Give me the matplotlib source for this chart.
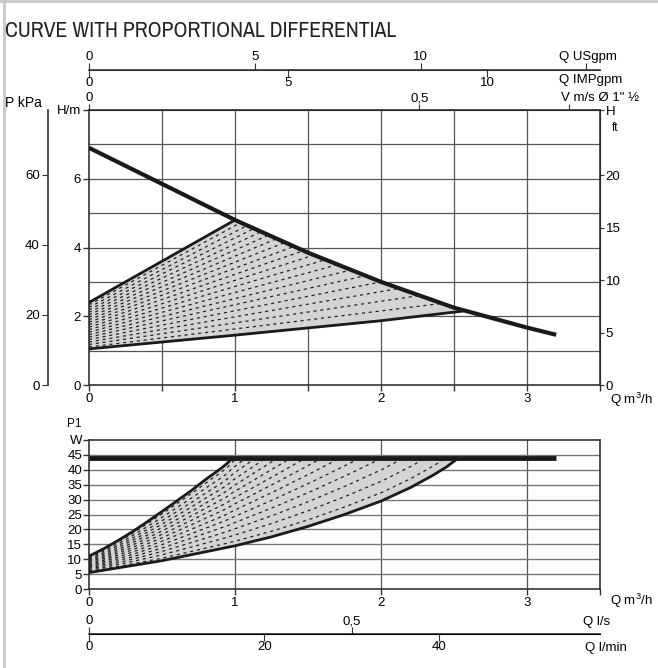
import numpy as np
import matplotlib
matplotlib.use('Agg')
import matplotlib.pyplot as plt
from matplotlib.patches import Polygon
from matplotlib import font_manager

plt.rcParams['font.family'] = ['Liberation Sans', 'DejaVu Sans']
plt.rcParams['mathtext.default'] = 'regular'

# ---- data ----
# head curves (Q m3/h, H m)
q_max = [0.0, 0.5, 1.0, 1.5, 2.0, 2.5, 3.0, 3.2]
h_max = [6.9, 5.85, 4.8, 3.85, 3.0, 2.25, 1.67, 1.46]
q_prop_hi = [0.0, 1.0]
h_prop_hi = [2.4, 4.8]
q_prop_lo = [0.0, 1.0, 2.0, 2.56]
h_prop_lo = [1.05, 1.45, 1.87, 2.15]

# power curves (Q m3/h, P1 W)
q_pmax = [0.0, 3.2]
p_pmax = [44.0, 44.0]
q_p_hi = [0.0, 0.1, 0.2, 0.3, 0.4, 0.5, 0.6, 0.7, 0.8, 0.9, 0.95, 0.98]
p_p_hi = [11.0, 13.5, 16.3, 19.3, 22.6, 26.0, 29.5, 33.0, 36.8, 40.3, 42.3, 44.0]
q_p_lo = [0.0, 0.25, 0.5, 0.75, 1.0, 1.25, 1.5, 1.75, 2.0, 2.2, 2.35, 2.45, 2.53]
p_p_lo = [5.5, 7.5, 9.5, 12.0, 14.5, 17.5, 21.0, 25.0, 29.5, 34.0, 38.0, 41.0, 44.0]

# axis ticks
h_ticks = [0, 2, 4, 6, 8]
h_ticklabels = ['0', '2', '4', '6', 'H/m']
kpa_ticks = [0, 20, 40, 60]
ft_ticks = [0, 5, 10, 15, 20, 26.24]
ft_ticklabels = ['0', '5', '10', '15', '20', 'H']
q_ticks = [0, 1, 2, 3]
usgpm_ticks = [0, 5, 10, 15]
usgpm_labels = ['0', '5', '10', '']
impgpm_ticks = [0, 5, 10]
v_ticks = [0, 0.5, 0.727]
v_labels = ['0', '0,5', '']
p_ticks = [0, 5, 10, 15, 20, 25, 30, 35, 40, 45, 50]
p_ticklabels = ['0', '5', '10', '15', '20', '25', '30', '35', '40', '45', 'W']
ls_ticks = [0, 0.5]
ls_labels = ['0', '0,5']
lmin_ticks = [0, 20, 40]

DARK = '#1a1a1a'
GRID = '#555555'
FILL = '#d4d4d4'
EDGE = '#333333'
FS = 9.5

W, H = 658, 668
fig = plt.figure(figsize=(W / 100, H / 100), dpi=100)


def fx(px):
    return px / W


def fy(py):
    return 1 - py / H


ax = fig.add_axes([fx(89), fy(385), fx(600) - fx(89), fy(110) - fy(385)])
ax2 = fig.add_axes([fx(89), fy(589), fx(600) - fx(89), fy(440) - fy(589)])

# ---------------- head chart ----------------
ax.set_xlim(0, 3.5)
ax.set_ylim(0, 8)
for v in np.arange(0.5, 3.5, 0.5):
    ax.axvline(v, color=GRID, lw=0.9, zorder=1)
for v in range(1, 8):
    ax.axhline(v, color=GRID, lw=0.9, zorder=1)

# region upper boundary: prop line up to Q=1, then max curve down to the lower line
q_seg = np.linspace(1.0, q_prop_lo[-1], 40)
h_seg = np.interp(q_seg, q_max, h_max)
upper_q = np.concatenate([q_prop_hi, q_seg[1:]])
upper_h = np.concatenate([h_prop_hi, h_seg[1:]])
poly = np.column_stack([np.concatenate([upper_q, q_prop_lo[::-1]]),
                        np.concatenate([upper_h, h_prop_lo[::-1]])])
region = Polygon(poly, closed=True, facecolor=FILL, edgecolor='none', zorder=2)
ax.add_patch(region)

# fan of dashed proportional lines
xs = np.linspace(0, 3.0, 200)
lo_line = np.polyval(np.polyfit(q_prop_lo, h_prop_lo, 1), xs)
hi_line = np.polyval(np.polyfit(q_prop_hi, h_prop_hi, 1), xs)
for t in np.linspace(0.05, 0.95, 18):
    ln, = ax.plot(xs, lo_line + t * (hi_line - lo_line), color='#222222', lw=0.9,
                  dashes=(2.5, 3), zorder=3)
    ln.set_clip_path(region)

ax.plot(q_prop_hi, h_prop_hi, color=DARK, lw=2.0, zorder=4, solid_capstyle='round')
ax.plot(q_prop_lo, h_prop_lo, color=DARK, lw=2.0, zorder=4, solid_capstyle='round')
ax.plot(q_max, h_max, color=DARK, lw=3.0, zorder=5, solid_capstyle='butt')

ax.set_xticks(q_ticks)
ax.set_xticks(np.arange(0, 3.51, 0.5), minor=True)
ax.set_yticks(h_ticks)
ax.set_yticklabels(h_ticklabels)
ax.tick_params(axis='both', which='both', direction='out', length=4, width=1,
               labelsize=FS, color=EDGE, pad=2)
ax.tick_params(axis='y', which='minor', left=False)
for s in ax.spines.values():
    s.set_color(EDGE)
    s.set_linewidth(1.2)
ax.text(1.02, -0.055, 'Q m$^3$/h', transform=ax.transAxes, fontsize=FS,
        va='center', ha='left')

# P kPa axis on the left
kpa = ax.secondary_yaxis(-0.0802, functions=(lambda h: h * 9.81, lambda p: p / 9.81))
kpa.set_yticks(kpa_ticks)
kpa.tick_params(direction='out', length=4, labelsize=FS, color=EDGE, pad=2)
kpa.spines['left'].set_color(EDGE)
kpa.spines['left'].set_linewidth(1.2)
ax.text(-0.165, 1.025, 'P kPa', transform=ax.transAxes, fontsize=10, ha='left', va='center')

# H ft axis on the right
ft = ax.secondary_yaxis('right', functions=(lambda h: h / 0.3048, lambda f: f * 0.3048))
ft.set_yticks(ft_ticks)
ft.set_yticklabels(ft_ticklabels)
ft.tick_params(direction='out', length=3, labelsize=FS, color=EDGE, pad=1)
ax.text(1.023, 0.935, 'ft', transform=ax.transAxes, fontsize=8.5, ha='left', va='center')

# V m/s on top spine (pipe 40 mm)
area = np.pi * 0.02 ** 2 * 3600
vax = ax.secondary_xaxis('top', functions=(lambda q: q / area, lambda v: v * area))
vax.set_xticks(v_ticks)
vax.set_xticklabels(v_labels)
vax.tick_params(direction='out', length=4, labelsize=FS, color=EDGE, pad=0)
ax.text(0.924, 1.044, 'V m/s Ø 1" ½', transform=ax.transAxes, fontsize=FS,
        ha='left', va='center')

# USgpm / IMPgpm line
loc = (385 - 70) / 275
us = ax.secondary_xaxis(loc, functions=(lambda q: q / 0.22712, lambda g: g * 0.22712))
us.set_xticks(usgpm_ticks)
us.set_xticklabels(usgpm_labels)
us.tick_params(direction='out', length=5, labelsize=FS, color=EDGE, pad=0)
us.spines['top'].set_color(EDGE)
us.spines['top'].set_linewidth(1.2)
imp = ax.secondary_xaxis(loc, functions=(lambda q: q / 0.27276, lambda g: g * 0.27276))
imp.set_alignment('bottom')
imp.set_xticks(impgpm_ticks)
imp.tick_params(direction='out', length=5, labelsize=FS, color=EDGE, pad=0)
imp.spines['bottom'].set_color(EDGE)
ax.text(0.92, 1.193, 'Q USgpm', transform=ax.transAxes, fontsize=FS,
        ha='left', va='center')
ax.text(0.92, 1.109, 'Q IMPgpm', transform=ax.transAxes, fontsize=FS,
        ha='left', va='center')

# ---------------- power chart ----------------
ax2.set_xlim(0, 3.5)
ax2.set_ylim(0, 50)
for v in q_ticks[1:]:
    ax2.axvline(v, color=GRID, lw=0.9, zorder=1)
for v in p_ticks[1:-1]:
    ax2.axhline(v, color='#777777', lw=1.0, zorder=1)

q_top = np.linspace(q_p_hi[-1], q_p_lo[-1], 10)
poly2 = np.column_stack([np.concatenate([q_p_hi, q_top[1:], q_p_lo[::-1]]),
                         np.concatenate([p_p_hi, np.full(9, p_pmax[0]), p_p_lo[::-1]])])
region2 = Polygon(poly2, closed=True, facecolor=FILL, edgecolor='none', zorder=2)
ax2.add_patch(region2)
xs2 = np.linspace(0, 3.0, 300)
lo2 = np.interp(xs2, q_p_lo, p_p_lo)
hi2 = np.interp(xs2, q_p_hi, p_p_hi, right=np.nan)
hi2 = np.where(np.isnan(hi2), p_p_hi[-1] + (xs2 - q_p_hi[-1]) * 40, hi2)
for t in np.linspace(0.05, 0.95, 14):
    ln, = ax2.plot(xs2, lo2 + t * (hi2 - lo2), color='#222222', lw=0.9,
                   dashes=(2.5, 3), zorder=3)
    ln.set_clip_path(region2)

ax2.plot(q_p_hi, p_p_hi, color=DARK, lw=2.0, zorder=4)
ax2.plot(q_p_lo, p_p_lo, color=DARK, lw=2.0, zorder=4)
ax2.plot(q_pmax, p_pmax, color=DARK, lw=3.5, zorder=5, solid_capstyle='butt')

ax2.set_xticks(q_ticks)
ax2.set_xticks([3.5], minor=True)
ax2.set_yticks(p_ticks)
ax2.set_yticklabels(p_ticklabels)
ax2.tick_params(axis='both', which='both', direction='out', length=4, width=1,
                labelsize=FS, color=EDGE, pad=2)
ax2.tick_params(axis='y', pad=1)
for s in ax2.spines.values():
    s.set_color(EDGE)
    s.set_linewidth(1.2)
ax2.text(-0.015, 1.07, 'P1', transform=ax2.transAxes, fontsize=8.5, ha='right', va='bottom')
ax2.text(1.02, -0.08, 'Q m$^3$/h', transform=ax2.transAxes, fontsize=FS,
         va='center', ha='left')

loc2 = (589 - 634) / 149
ls = ax2.secondary_xaxis(loc2, functions=(lambda q: q / 3.6, lambda l: l * 3.6))
ls.set_alignment('top')
ls.set_xticks(ls_ticks)
ls.set_xticklabels(ls_labels)
ls.tick_params(direction='out', length=5, labelsize=FS, color=EDGE, pad=0)
ls.spines['top'].set_color(EDGE)
ls.spines['top'].set_linewidth(1.2)
lmin = ax2.secondary_xaxis(loc2, functions=(lambda q: q / 0.06, lambda l: l * 0.06))
lmin.set_xticks(lmin_ticks)
lmin.tick_params(direction='out', length=5, labelsize=FS, color=EDGE, pad=0)
ax2.text(0.967, -0.2215, 'Q l/s', transform=ax2.transAxes, fontsize=FS,
         ha='left', va='center')
ax2.text(0.97, -0.396, 'Q l/min', transform=ax2.transAxes, fontsize=FS,
         ha='left', va='center')

# title: use a condensed face if one is installed
cond = sorted(f.name for f in font_manager.fontManager.ttflist
              if f.stretch in ('condensed', 'semi-condensed', 'extra-condensed')
              or 'Narrow' in f.name or 'Condensed' in f.name)
if cond:
    title_font = dict(family=[cond[0]], fontstretch='condensed', fontsize=15.7)
else:
    title_font = dict(fontsize=13.5)
fig.text(fx(5), fy(31), 'CURVE WITH PROPORTIONAL DIFFERENTIAL',
         ha='left', va='center', color='#222222', **title_font)
fig.add_artist(plt.Line2D([fx(3.5), fx(3.5)], [0, 1], color='#c8c8c8', lw=2))
fig.add_artist(plt.Line2D([0, 1], [fy(1), fy(1)], color='#c8c8c8', lw=2))

fig.savefig('out.png', dpi=100)
